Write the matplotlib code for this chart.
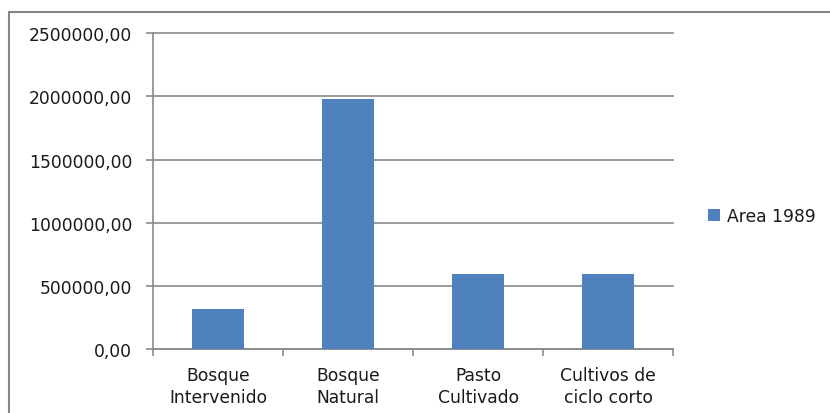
import matplotlib
matplotlib.use("Agg")
import matplotlib.pyplot as plt
from matplotlib.patches import Rectangle
from matplotlib.ticker import FuncFormatter

categories = ["Bosque\nIntervenido", "Bosque\nNatural", "Pasto\nCultivado", "Cultivos de\nciclo corto"]
area_1989 = [322000, 1978000, 592000, 592000]
series_name = "Area 1989"
yticks = [0, 500000, 1000000, 1500000, 2000000, 2500000]

plt.rcParams['font.family'] = ['DejaVu Sans']

W, H = 830, 414
fig = plt.figure(figsize=(W / 100, H / 100), dpi=100)
ax = fig.add_axes([153 / W, 1 - 350.3 / H, (673 - 153) / W, (350.3 - 34) / H])

gray = "#8a8a8a"
bar_color = "#4f81bd"
txt = "#1a1a1a"
fs = 12.3

x = list(range(len(categories)))
ax.bar(x, area_1989, width=0.4, color=bar_color, zorder=3, label=series_name)

ax.set_xlim(-0.5, len(categories) - 0.5)
ax.set_ylim(0, 2500000)
ax.set_yticks(yticks)
ax.yaxis.set_major_formatter(FuncFormatter(lambda v, p: f"{int(v)},00"))
ax.grid(axis='y', color=gray, linewidth=1.2, zorder=0)
ax.set_axisbelow(True)
for gl in ax.get_ygridlines():
    gl.set_clip_on(False)

for s in ['top', 'right']:
    ax.spines[s].set_visible(False)
ax.spines['left'].set_color(gray)
ax.spines['left'].set_linewidth(1.2)
ax.spines['bottom'].set_color(gray)
ax.spines['bottom'].set_linewidth(1.2)

ax.tick_params(axis='y', length=5, width=1.2, color=gray, pad=10, labelsize=fs, labelcolor=txt)
ax.set_xticks(x)
ax.set_xticklabels(categories, fontsize=fs, linespacing=1.3)
ax.tick_params(axis='x', which='major', length=0, pad=12, labelcolor=txt)
ax.set_xticks([i - 0.5 for i in range(len(categories) + 1)], minor=True)
ax.tick_params(axis='x', which='minor', length=5, width=1.2, color=gray)

leg = fig.legend(loc='center left', bbox_to_anchor=(693 / W, 1 - 217 / H), frameon=False,
                 fontsize=fs, handlelength=0.7, handleheight=0.7, handletextpad=0.4,
                 labelcolor=txt)

# outer chart border
fig.patches.append(Rectangle((9 / W, -0.05), 1.0, 1 - 13 / H + 0.05, transform=fig.transFigure,
                             fill=False, edgecolor="#868686", linewidth=1.5))

fig.savefig("out.png", dpi=100)
